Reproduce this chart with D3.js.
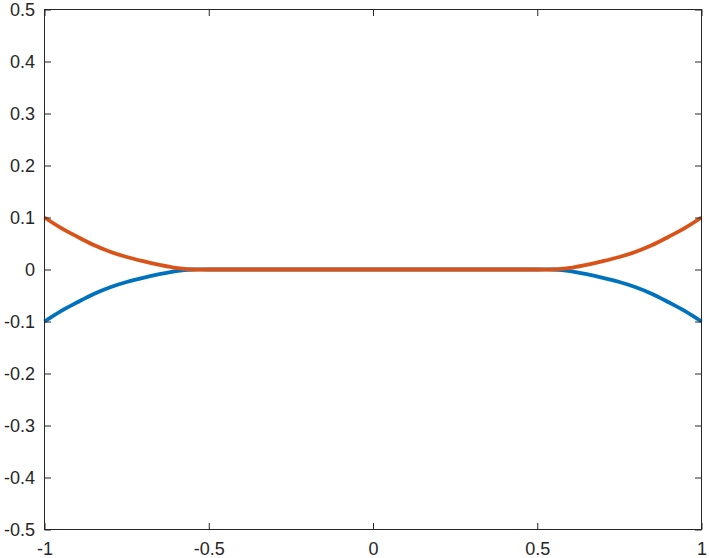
<!DOCTYPE html>
<meta charset="utf-8">
<head>
<style>
body { margin: 0; background: #fff; }
svg { display: block; }
text { font-family: "Liberation Sans", Arial, sans-serif; font-size: 18px; fill: #262626; }
.line { fill: none; stroke-width: 3.8px; stroke-linejoin: round; }
</style>
</head>
<body>
<script src="https://d3js.org/d3.v7.min.js"></script>
<div id="chart"></div>
<script>
  // values
  var xValues = [-1, -0.95, -0.9, -0.85, -0.8, -0.75, -0.7, -0.65, -0.6, -0.55, -0.5, 0, 0.5, 0.55, 0.6, 0.65, 0.7, 0.75, 0.8, 0.85, 0.9, 0.95, 1];
  var upper = [0.100, 0.080, 0.063, 0.047, 0.034, 0.024, 0.016, 0.009, 0.003, 0, 0, 0, 0, 0, 0.003, 0.009, 0.016, 0.024, 0.034, 0.047, 0.063, 0.080, 0.100];
  var lower = [-0.100, -0.080, -0.063, -0.047, -0.034, -0.024, -0.016, -0.009, -0.003, 0, 0, 0, 0, 0, -0.003, -0.009, -0.016, -0.024, -0.034, -0.047, -0.063, -0.080, -0.100];
  var xTicks = [-1, -0.5, 0, 0.5, 1];
  var yTicks = [-0.5, -0.4, -0.3, -0.2, -0.1, 0, 0.1, 0.2, 0.3, 0.4, 0.5];

  var width = 709, height = 558;
  var pLeft = 44.5, pRight = 701.5, pTop = 9.5, pBottom = 529.5;

  var svg = d3.select('#chart').append('svg')
      .attr('width', width)
      .attr('height', height);

  var x = d3.scaleLinear().domain([-1, 1]).range([pLeft, pRight]);
  var y = d3.scaleLinear().domain([-0.5, 0.5]).range([pBottom, pTop]);

  var fmt = function (d) { return String(d); };

  var line = d3.line()
      .x(function (d, i) { return x(xValues[i]); })
      .y(function (d) { return y(d); })
      .curve(d3.curveCatmullRom.alpha(0.5));

  svg.append('path').datum(lower).attr('class', 'line').attr('stroke', '#0072BD').attr('d', line);
  svg.append('path').datum(upper).attr('class', 'line').attr('stroke', '#D95319').attr('d', line);

  var axisStyle = function (g) {
    g.select('.domain').remove();
    g.selectAll('line').attr('stroke', '#262626');
    g.selectAll('text').attr('font-family', null).attr('font-size', null);
  };

  svg.append('g').attr('transform', 'translate(0,' + pBottom + ')')
      .call(d3.axisBottom(x).tickValues(xTicks).tickFormat(fmt).tickSizeInner(-6.5).tickSizeOuter(0).tickPadding(12.5))
      .call(axisStyle);
  svg.append('g').attr('transform', 'translate(0,' + pTop + ')')
      .call(d3.axisTop(x).tickValues(xTicks).tickFormat('').tickSizeInner(-6.5).tickSizeOuter(0))
      .call(axisStyle);
  svg.append('g').attr('transform', 'translate(' + pLeft + ',0)')
      .call(d3.axisLeft(y).tickValues(yTicks).tickFormat(fmt).tickSizeInner(-6.5).tickSizeOuter(0).tickPadding(9.5))
      .call(axisStyle);
  svg.append('g').attr('transform', 'translate(' + pRight + ',0)')
      .call(d3.axisRight(y).tickValues(yTicks).tickFormat('').tickSizeInner(-6.5).tickSizeOuter(0))
      .call(axisStyle);

  svg.append('rect')
      .attr('x', pLeft).attr('y', pTop)
      .attr('width', pRight - pLeft).attr('height', pBottom - pTop)
      .attr('fill', 'none').attr('stroke', '#262626').attr('stroke-width', 1);
</script>
</body>
